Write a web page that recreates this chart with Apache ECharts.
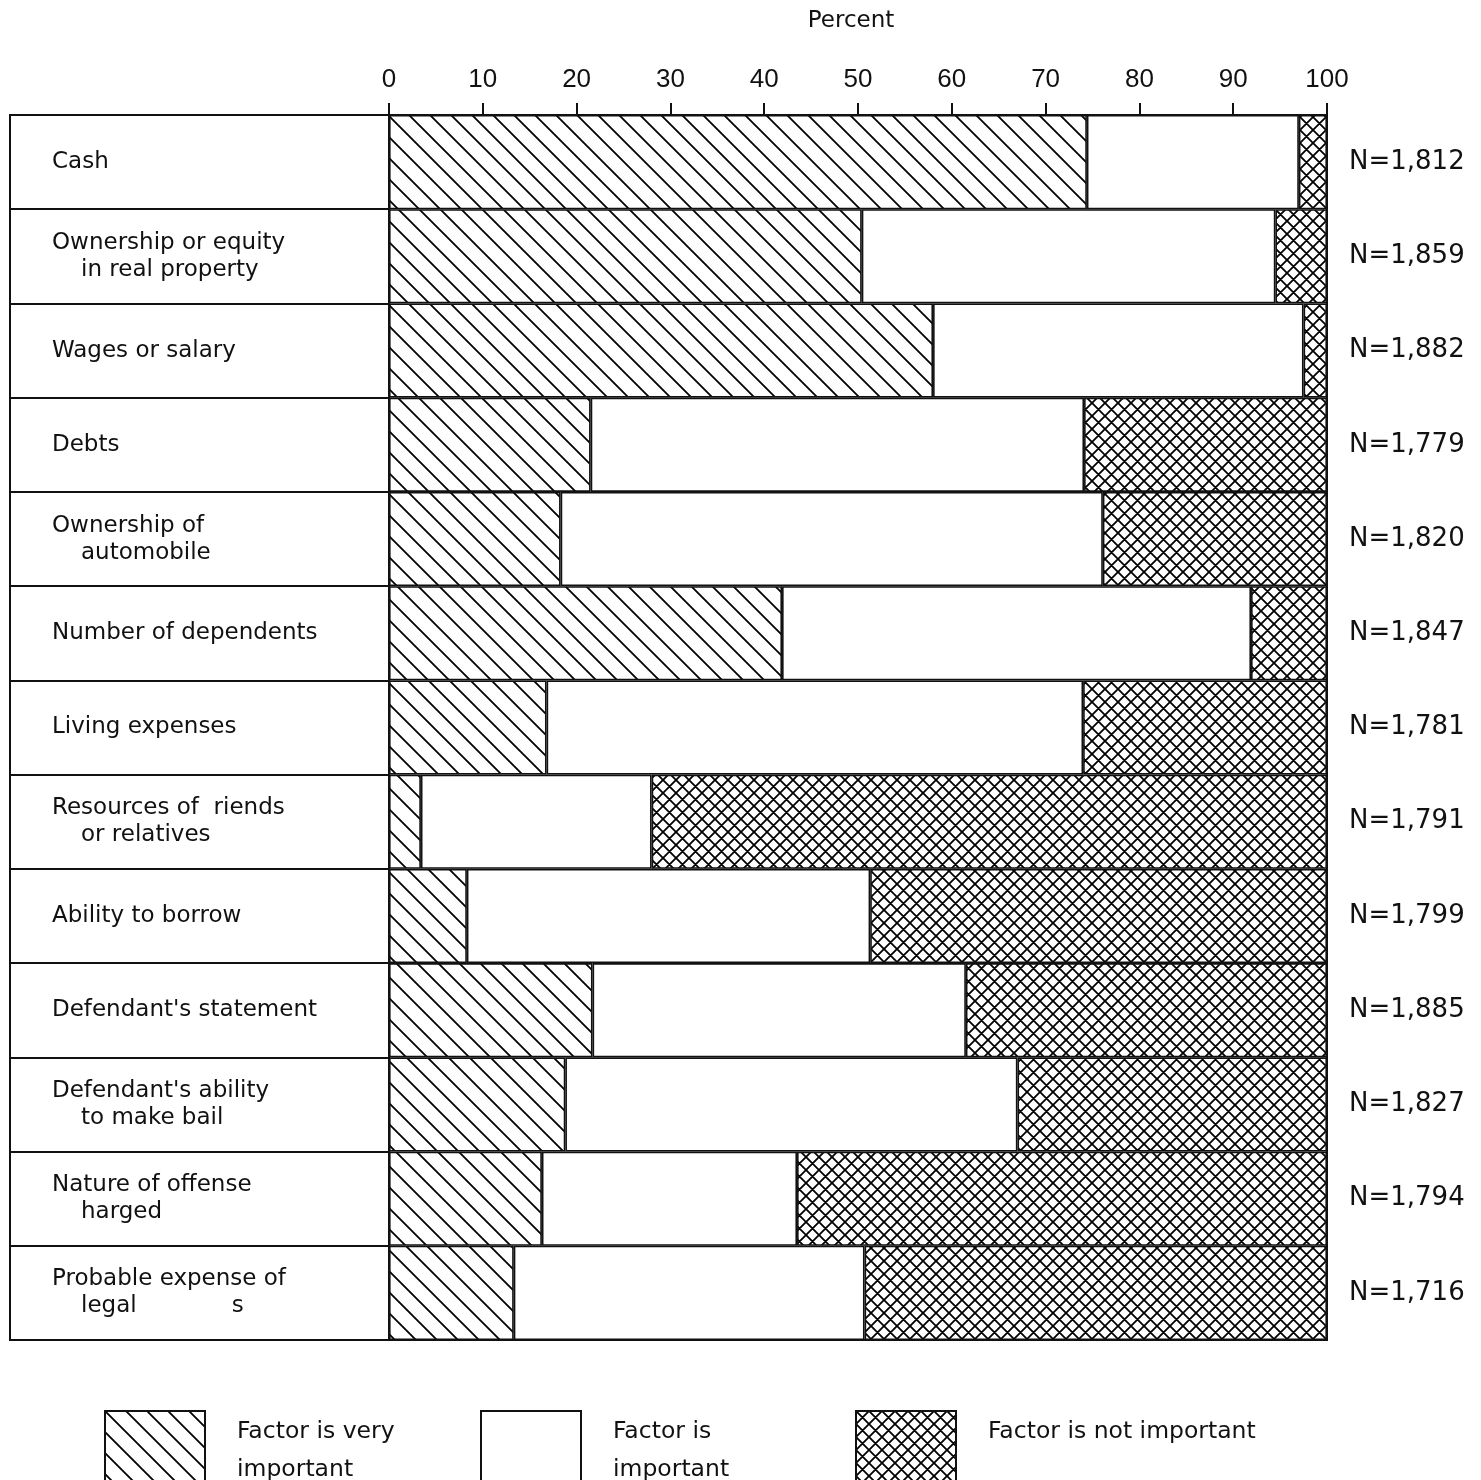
<!DOCTYPE html>
<html><head><meta charset="utf-8">
<script src="https://cdn.jsdelivr.net/npm/echarts@6/dist/echarts.min.js"></script>
<style>html,body{margin:0;padding:0;background:#fff}#c{width:1481px;height:1480px}</style>
</head><body><div id="c"></div>
<script>
const categories = [
  'Cash',
  'Ownership or equity\nin real property',
  'Wages or salary',
  'Debts',
  'Ownership of\nautomobile',
  'Number of dependents',
  'Living expenses',
  'Resources of  riends\nor relatives',
  'Ability to borrow',
  "Defendant's statement",
  "Defendant's ability\nto make bail",
  'Nature of offense\nharged',
  'Probable expense of\nlegal             s'
];
const veryImportant = [74.4, 50.4, 58.0, 21.5, 18.3, 41.9, 16.8, 3.4, 8.3, 21.7, 18.8, 16.3, 13.3];
const important     = [22.6, 44.1, 39.5, 52.6, 57.8, 50.0, 57.2, 24.6, 43.0, 39.8, 48.2, 27.2, 37.4];
const notImportant  = [3.0, 5.5, 2.5, 25.9, 23.9, 8.1, 26.0, 72.0, 48.7, 38.5, 33.0, 56.5, 49.3];
const nValues = ['1,812','1,859','1,882','1,779','1,820','1,847','1,781','1,791','1,799','1,885','1,827','1,794','1,716'];
const seriesNames = ['Factor is very important', 'Factor is important', 'Factor is not important'];
const legendLabels = ['Factor is very\nimportant', 'Factor is\nimportant', 'Factor is not important\n '];
const xTicks = {min: 0, max: 100, interval: 10};

function diagPattern() {
  const s = 21, c = document.createElement('canvas');
  c.width = s; c.height = s;
  const g = c.getContext('2d');
  g.fillStyle = '#fff'; g.fillRect(0, 0, s, s);
  g.strokeStyle = '#000'; g.lineWidth = 1.8;
  g.beginPath();
  g.moveTo(0, 0); g.lineTo(s, s);
  g.moveTo(-2, s - 2); g.lineTo(2, s + 2);
  g.moveTo(s - 2, -2); g.lineTo(s + 2, 2);
  g.stroke();
  return c;
}
function crossPattern() {
  const s = 13, c = document.createElement('canvas');
  c.width = s; c.height = s;
  const g = c.getContext('2d');
  g.fillStyle = '#fff'; g.fillRect(0, 0, s, s);
  g.strokeStyle = '#000'; g.lineWidth = 1.8;
  g.beginPath();
  g.moveTo(0, 0); g.lineTo(s, s);
  g.moveTo(-2, s - 2); g.lineTo(2, s + 2);
  g.moveTo(s - 2, -2); g.lineTo(s + 2, 2);
  g.moveTo(s, 0); g.lineTo(0, s);
  g.moveTo(-2, 2); g.lineTo(2, -2);
  g.moveTo(s - 2, s + 2); g.lineTo(s + 2, s - 2);
  g.stroke();
  return c;
}
const fills = [
  {image: diagPattern(), repeat: 'repeat'},
  '#ffffff',
  {image: crossPattern(), repeat: 'repeat'}
];
const values = [veryImportant, important, notImportant];
const FONT = '"Liberation Sans", Arial, sans-serif';
const FONT2 = '"DejaVu Sans", sans-serif';

const chart = echarts.init(document.getElementById('c'), null, {renderer: 'canvas'});
const legendLeft = [104, 480, 855];
chart.setOption({
  backgroundColor: '#fff',
  animation: false,
  textStyle: {fontFamily: FONT2, color: '#111'},
  grid: [
    {left: 389, right: 154, top: 115, bottom: 140, show: true, borderColor: '#111', borderWidth: 2, backgroundColor: 'transparent', containLabel: false, outerBoundsMode: 'none'},
    {left: 10, width: 379, top: 115, bottom: 140, show: true, borderColor: '#111', borderWidth: 2, backgroundColor: 'transparent', containLabel: false, outerBoundsMode: 'none'}
  ],
  xAxis: [
    {
      type: 'value', gridIndex: 0, position: 'top',
      min: xTicks.min, max: xTicks.max, interval: xTicks.interval,
      name: 'Percent', nameLocation: 'middle', nameGap: 82,
      nameTextStyle: {fontSize: 23, color: '#111', fontFamily: FONT2, padding: [0, 14, 0, 0]},
      axisLine: {show: true, lineStyle: {color: '#111', width: 2}},
      axisTick: {show: true, inside: false, length: 12, lineStyle: {color: '#111', width: 2}},
      axisLabel: {fontSize: 26, color: '#111', margin: 22, fontFamily: FONT},
      splitLine: {show: false}
    },
    {type: 'value', gridIndex: 1, min: 0, max: 1, show: false}
  ],
  yAxis: [
    {
      type: 'category', gridIndex: 0, data: categories, inverse: true, position: 'right',
      axisLine: {show: false}, axisTick: {show: false},
      axisLabel: {
        fontSize: 26, color: '#111', margin: 22, fontFamily: FONT2,
        formatter: (v, i) => 'N=' + nValues[i]
      },
      splitLine: {show: false}
    },
    {
      type: 'category', gridIndex: 1, data: categories, inverse: true, position: 'left',
      axisLine: {show: false}, axisTick: {show: false},
      splitLine: {show: true, lineStyle: {color: '#111', width: 2}},
      axisLabel: {
        inside: true, align: 'left', margin: 42, color: '#111',
        formatter: v => v.split('\n').map((s, i) => i ? '{ind|}{t|' + s + '}' : '{t|' + s + '}').join('\n'),
        rich: {
          t: {fontSize: 23, lineHeight: 27, color: '#111', fontFamily: FONT2},
          ind: {width: 29, lineHeight: 27}
        }
      }
    }
  ],
  legend: legendLeft.map((l, k) => ({
    data: [seriesNames[k]],
    left: l, top: 1410, padding: 0,
    orient: 'horizontal',
    itemWidth: 100, itemHeight: 80,
    icon: 'rect',
    itemStyle: {borderColor: '#111', borderWidth: 2},
    formatter: () => legendLabels[k],
    textStyle: {fontSize: 23.5, lineHeight: 38, color: '#111', fontFamily: FONT2, padding: [0, 0, 0, 27]},
    selectedMode: false
  })),
  series: values.map((arr, k) => ({
    name: seriesNames[k],
    type: 'bar',
    stack: 'total',
    xAxisIndex: 0, yAxisIndex: 0,
    barCategoryGap: '0%',
    data: arr,
    itemStyle: {color: fills[k], borderColor: '#111', borderWidth: 1.6},
    emphasis: {disabled: true}
  }))
});
</script></body></html>
